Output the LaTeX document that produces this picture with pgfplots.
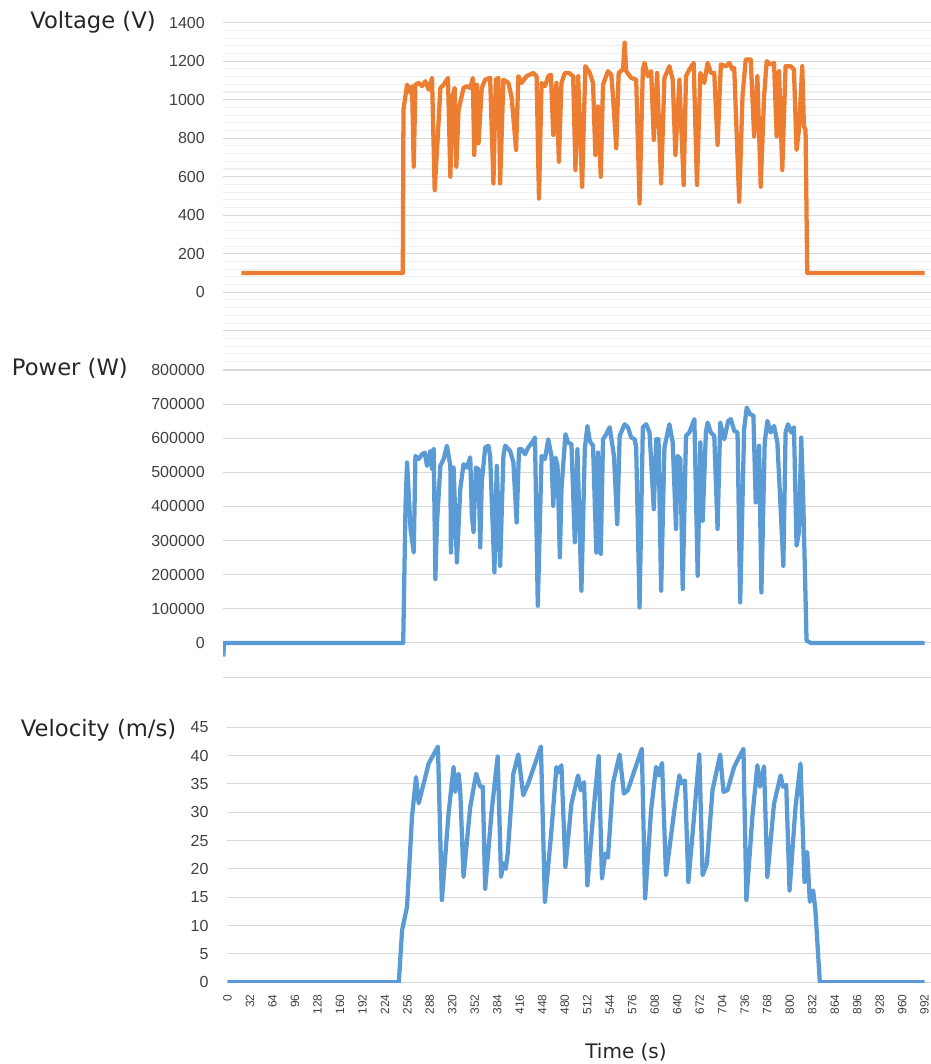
\documentclass[border=0pt]{standalone}
\usepackage{pgfplots}
\pgfplotsset{compat=1.18}
\usepackage{fontspec}
\setmainfont{Liberation Sans}
\newfontfamily\lab{DejaVu Sans}
\definecolor{vorange}{HTML}{ED7D31}
\definecolor{pblue}{HTML}{5B9BD5}
\definecolor{gmaj}{HTML}{D9D9D9}
\definecolor{gmin}{HTML}{EFEFEF}
\definecolor{tickc}{HTML}{404040}
\definecolor{labc}{HTML}{262626}
\pgfplotsset{
  base/.style={
    scale only axis,
    axis line style={draw=none},
    tick style={draw=none},
    /pgf/number format/assume math mode=true,
    /pgf/number format/1000 sep={},
    tick label style={font=\fontsize{12}{12}\selectfont, text=tickc},
    yticklabel style={anchor=east, inner sep=0pt, xshift=-13.5pt},
    ymajorgrids,
    major grid style={gmaj, line width=0.8pt},
    clip=true,
  }
}
\begin{document}
\begin{tikzpicture}
\path[use as bounding box] (0,0) rectangle (698.25pt,798pt);
% Voltage
\begin{axis}[base,
  at={(167.25pt,526.8pt)}, anchor=south west,
  width=531pt, height=254.2pt,
  xmin=-6.4, xmax=1001, ymin=-360, ymax=1400,
  xtick=\empty,
  ytick={0,200,...,1400},
  extra y ticks={-200}, extra y tick labels={},
  minor ytick={-360,-320,...,1400},
  yminorgrids, minor grid style={gmin, line width=0.8pt},
]
\addplot[vorange, line width=3.2pt, line join=round] coordinates {
(19.8,100) (249.4,100) (250.4,948) (255.5,1078) (260.4,1035) (262.6,1070) (265.0,652) (267.4,1078)
(272.1,1087) (276.8,1070) (281.6,1096) (286.3,1052) (291.0,1113) (294.8,530) (299.5,826) (302.9,1061)
(307.6,1078) (313.7,1113) (317.1,600) (320.3,1017) (323.2,1061) (325.6,652) (328.8,948) (335.9,1061)
(340.6,1070) (345.4,1061) (349.1,1113) (351.1,713) (354.8,1078) (357.2,774) (361.8,1061) (366.7,1104)
(373.7,1113) (378.4,565) (381.7,1104) (385.5,1113) (387.9,565) (392.6,1104) (399.7,1087) (404.4,1009)
(410.6,739) (413.9,1122) (418.5,1087) (425.6,1122) (435.1,1139) (439.8,1122) (443.2,487) (446.9,1087)
(451.7,1070) (456.4,1122) (460.2,1130) (463.5,817) (468.1,1087) (471.5,678) (475.2,1087) (480.0,1139)
(485.7,1139) (491.8,1122) (495.1,635) (498.9,1122) (504.6,548) (509.2,1174) (515.5,1139) (520.1,1087)
(523.4,713) (527.2,965) (531.1,600) (534.3,1078) (541.4,1148) (546.1,1130) (548.5,1017) (553.2,748)
(556.6,1139) (562.7,1157) (565.1,1296) (567.3,1148) (574.4,1113) (581.5,1104) (586.3,461) (591.0,1157)
(593.4,1191) (598.1,1122) (602.8,1148) (606.6,791) (611.3,1139) (617.0,565) (621.7,1113) (628.8,1174)
(633.5,1104) (637.3,713) (643.0,1104) (649.1,557) (652.4,1122) (657.2,1157) (663.3,1191) (668.0,557)
(672.8,1139) (678.4,1087) (683.1,1191) (687.8,1139) (692.6,1139) (697.3,765) (702.0,1183) (709.1,1174)
(713.9,1191) (718.6,1157) (721.0,1165) (728.1,470) (732.8,1017) (737.4,1209) (744.5,1209) (749.3,809)
(754.0,1122) (758.7,548) (763.5,1017) (767.2,1200) (772.0,1183) (777.7,1191) (781.4,809) (784.8,1148)
(789.4,635) (794.1,1174) (801.2,1174) (806.0,1157) (809.7,739) (813.1,843) (817.8,1174) (820.2,861)
(822.5,843) (824.9,100) (992,100)
};
\end{axis}
% Power
\begin{axis}[base,
  at={(167.25pt,290.2pt)}, anchor=south west,
  width=531pt, height=230.3pt,
  xmin=-6.4, xmax=1001, ymin=-100000, ymax=800000,
  xtick=\empty,
  ytick={0,100000,...,800000},
  extra y ticks={-100000}, extra y tick labels={},
  scaled y ticks=false,
  yticklabel style={/pgf/number format/fixed, /pgf/number format/precision=0},
]
\addplot[pblue, line width=3.2pt, line join=round] coordinates {
(-6,-40000) (-5,0) (250,0) (253.3,402000) (255.5,529000) (260.4,334000) (265,265000) (267.4,548000)
(272.1,539000) (276.8,553000) (280.6,558000) (283.9,519000) (288.7,563000) (291,509000) (293.4,568000)
(295.8,187000) (298.1,353000) (302.9,519000) (307.6,539000) (312.2,578000) (317.1,519000) (317.9,265000)
(321.7,514000) (326.4,236000) (331.2,451000) (335.9,524000) (340.6,514000) (345.4,544000) (347.7,373000)
(350.1,324000) (353.3,514000) (357.2,509000) (359.6,280000) (361.8,471000) (366.7,573000) (371.3,578000)
(373.7,548000) (379.8,207000) (383.1,519000) (387.9,226000) (392.6,548000) (395,578000) (402.1,563000)
(406.8,529000) (411.4,353000) (414.8,568000) (418.5,568000) (423.4,553000) (428,573000) (433.7,588000)
(437.5,602000) (441.5,109000) (446.9,548000) (451.7,539000) (456.4,597000) (461,548000) (463.5,402000)
(466.7,543000) (469.6,519000) (472.9,251000) (475.2,451000) (480.9,612000) (484.7,587000) (489.4,583000)
(494.2,295000) (497.9,568000) (503.6,153000) (508.4,568000) (512.1,636000) (515.5,592000) (520.1,578000)
(524.8,265000) (527.2,558000) (531.1,261000) (534.3,597000) (539,612000) (543.8,632000) (549.9,548000)
(554.6,348000) (558,607000) (565.1,641000) (569.8,632000) (574.4,602000) (579.3,597000) (581.5,573000)
(586.3,104000) (591,632000) (595.7,641000) (600.5,617000) (606.6,392000) (609.9,597000) (613.3,597000)
(617,153000) (621.7,573000) (628.8,641000) (633.5,587000) (638.2,334000) (640.6,548000) (644.4,539000)
(647.7,158000) (652.4,607000) (657.2,617000) (664.3,656000) (669,197000) (672.8,588000) (676.1,358000)
(680.7,617000) (683.1,646000) (687.8,617000) (692.6,607000) (697.3,334000) (701.1,646000) (706.8,597000)
(712.5,651000) (716.2,656000) (721,622000) (725.7,617000) (729.5,119000) (735.1,627000) (738.8,690000)
(743.7,670000) (748.3,666000) (751.6,412000) (756.4,578000) (759.7,148000) (764.4,588000) (768.2,651000)
(772.9,617000) (777.7,636000) (782.4,587000) (787.1,392000) (790.9,226000) (794.1,617000) (797.5,641000)
(802.2,617000) (806,632000) (809.7,285000) (813.1,324000) (816.4,602000) (819.2,421000) (823.9,7000)
(830,0) (992,0)
};
\end{axis}
% Velocity
\begin{axis}[base,
  at={(170.6pt,61.3pt)}, anchor=south west,
  width=527.6pt, height=191.25pt,
  xmin=0, xmax=1001, ymin=0, ymax=45,
  xtick={0,32,...,992},
  xticklabel style={anchor=east, inner sep=0pt, yshift=-9pt, rotate=90, font=\fontsize{9}{9}\selectfont},
  ytick={0,5,...,45},
  yticklabel style={xshift=-0.5pt},
]
\addplot[pblue, line width=3.2pt, line join=round] coordinates {
(0,0) (243.8,0) (248.5,9.2) (255.5,13.3) (262.6,29.2) (268.3,36.2) (272.1,31.6) (276.8,33.9)
(286.3,38.6) (299.5,41.6) (305.1,14.5) (314.6,29.8) (321.7,38) (324.1,33.6) (328.8,36.8) (331.2,33.9)
(335.9,18.6) (345.4,30.9) (353.9,36.8) (359.6,34.5) (363.3,34.5) (366.7,16.5) (376.0,30.3) (384.5,39.9)
(389.3,18.6) (392.6,21) (395.9,20) (398.7,22.7) (406.8,36.8) (413.9,40.2) (420.9,33) (428.0,35.1)
(446.0,41.6) (451.7,14.2) (461.0,26.8) (468.1,38) (470.5,37) (475.2,38.3) (480.9,20.3) (489.4,31.5)
(498.9,36.5) (502.7,33.9) (507.4,35.3) (512.1,17.1) (520.1,29.2) (528.2,39.9) (532.9,18.3) (537.6,22.7)
(541.4,22) (548.5,35.1) (558.0,40.2) (564.1,33.3) (569.7,33.9) (589.6,41.2) (594.3,14.8) (602.8,30.4)
(609.9,38) (613.7,36.5) (618.4,38.7) (624.0,18.9) (635.9,30.4) (643.0,36.5) (646.3,35.1) (651.0,35.6)
(655.8,17.7) (664.3,29.8) (671.4,40.2) (676.1,18.9) (682.2,20.9) (690.2,33.9) (701.1,40.2) (705.8,33.6)
(711.5,33.9) (721.0,38) (734.2,41.2) (738.4,14.5) (746.9,29.2) (754.0,38.3) (757.8,34.5) (763.5,38.1)
(768.2,18.6) (777.7,31.5) (787.1,36.5) (790.4,34.5) (795.1,34.8) (799.8,16.2) (808.3,30.9) (815.4,38.6)
(821.1,17.7) (824.9,23) (828.7,14.2) (833.4,16.2) (836.6,12.7) (842.9,0) (992,0)
};
\end{axis}
\node[anchor=base west, inner sep=0pt, text=labc, font=\lab\fontsize{17}{17}\selectfont] at (22.5pt,776.8pt) {Voltage (V)};
\node[anchor=base west, inner sep=0pt, text=labc, font=\lab\fontsize{17}{17}\selectfont] at (8.8pt,516pt) {Power (W)};
\node[anchor=base west, inner sep=0pt, text=labc, font=\lab\fontsize{17}{17}\selectfont] at (15.5pt,245.5pt) {Velocity (m/s)};
\node[anchor=base, inner sep=0pt, text=labc, font=\lab\fontsize{15}{15}\selectfont] at (469.5pt,4.5pt) {Time (s)};
\end{tikzpicture}
\end{document}
